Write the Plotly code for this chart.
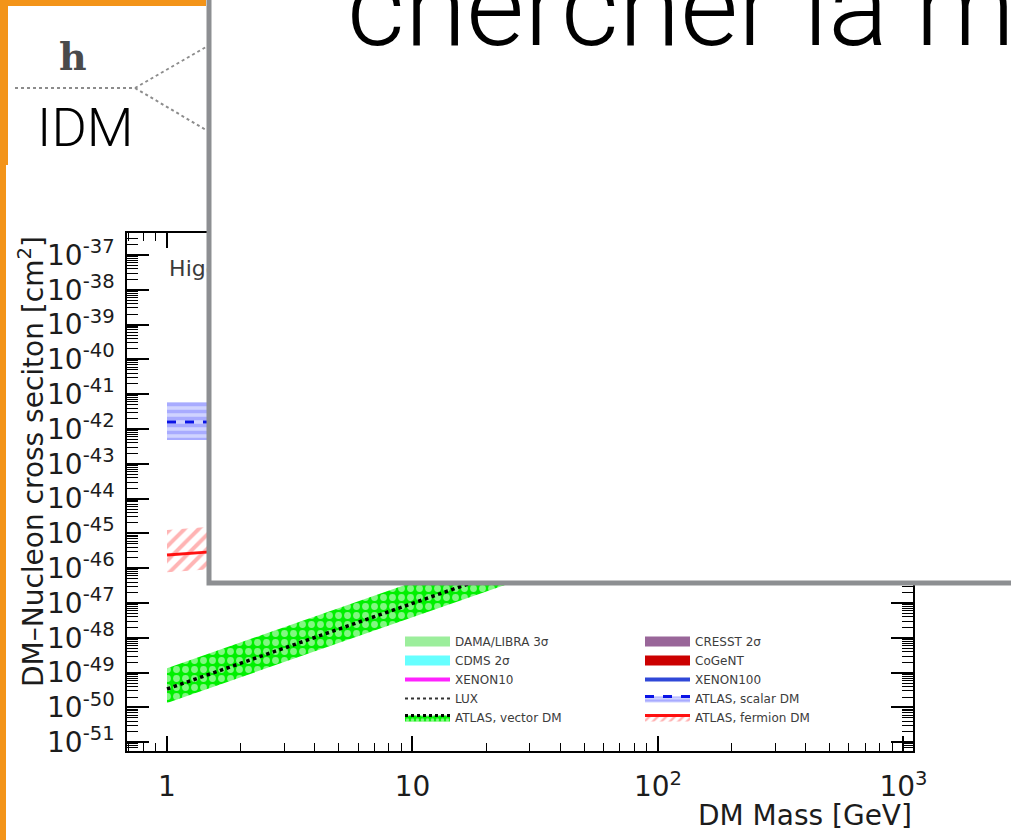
import plotly.graph_objects as go

W, H = 1011, 840

# ---------------- data ----------------
mass_vector = [1, 2, 3, 5, 10, 20, 30, 50, 62]
vector_center = [3.4e-50, 1.86e-49, 5.0e-49, 1.78e-48, 9.8e-48, 5.4e-47, 1.45e-46, 5.1e-46, 8.7e-46]
vector_upper = [1.35e-49, 7.4e-49, 2.0e-48, 7.1e-48, 3.9e-47, 2.15e-46, 5.8e-46, 2.0e-45, 3.5e-45]
vector_lower = [1.35e-50, 7.4e-50, 2.0e-49, 7.1e-49, 3.9e-48, 2.15e-47, 5.8e-47, 2.0e-46, 3.5e-46]

mass_scalar = [1, 1.5, 2, 5, 10, 20, 30, 50, 62]
scalar_center = [1.6e-42, 1.6e-42, 1.5e-42, 1.0e-42, 6.0e-43, 3.2e-43, 2.2e-43, 1.3e-43, 1.1e-43]
scalar_upper = [6.0e-42, 6.0e-42, 5.6e-42, 3.8e-42, 2.3e-42, 1.2e-42, 8.4e-43, 4.9e-43, 4.2e-43]
scalar_lower = [4.8e-43, 4.8e-43, 4.5e-43, 3.0e-43, 1.8e-43, 9.6e-44, 6.6e-44, 3.9e-44, 3.3e-44]

mass_fermion = [1, 1.5, 2, 5, 10, 20, 30, 50, 62]
fermion_center = [2.4e-46, 2.95e-46, 3.6e-46, 4.8e-46, 5.4e-46, 5.9e-46, 6.0e-46, 6.2e-46, 6.3e-46]
fermion_upper = [1.26e-45, 1.55e-45, 1.9e-45, 2.5e-45, 2.8e-45, 3.1e-45, 3.15e-45, 3.25e-45, 3.3e-45]
fermion_lower = [7.7e-47, 9.4e-47, 1.15e-46, 1.5e-46, 1.7e-46, 1.9e-46, 1.9e-46, 2.0e-46, 2.0e-46]

x_tick_vals = [1, 10, 100, 1000]
x_tick_text = ["1", "10", "10<sup>2</sup>", "10<sup>3</sup>"]
y_exponents = list(range(-37, -52, -1))
y_tick_vals = [10.0 ** e for e in y_exponents]
y_tick_text = ["10<sup>%d</sup>" % e for e in y_exponents]

legend1_names = ["DAMA/LIBRA 3σ", "CDMS 2σ", "XENON10", "LUX", "ATLAS, vector DM"]
legend2_names = ["CRESST 2σ", "CoGeNT", "XENON100", "ATLAS, scalar DM", "ATLAS, fermion DM"]

plot_label = "Higgs portal"
slide_title = "chercher la matière noire"
slide_label = "IDM"

# ---------------- helpers ----------------
def px(x):
    return x / W


def py(y):
    return 1 - y / H


TXT = dict(family="DejaVu Sans", size=28, color="#1c1c1c")

fig = go.Figure()


def band(m, lo, hi, pattern, fillcolor):
    fig.add_trace(go.Scatter(
        x=list(m) + list(m)[::-1], y=list(hi) + list(lo)[::-1],
        mode="lines", fill="toself", fillcolor=fillcolor,
        fillpattern=pattern, line=dict(width=0), hoverinfo="skip",
        showlegend=False))


GREEN = "#00f000"
VEC_PATTERN = dict(shape=".", fgcolor="white", bgcolor=GREEN, size=9, solidity=0.45)

# ATLAS scalar DM
band(mass_scalar, scalar_lower, scalar_upper,
     dict(shape="-", fgcolor="#8084ff", bgcolor="#d0d3ff", size=7, solidity=0.5),
     "#d0d3ff")
fig.add_trace(go.Scatter(x=mass_scalar, y=scalar_center, mode="lines",
                         line=dict(color="#0a14e6", width=3, dash="dash"), showlegend=False))
# ATLAS fermion DM
band(mass_fermion, fermion_lower, fermion_upper,
     dict(shape="/", fgcolor="#ff6a6a", bgcolor="white", size=10, solidity=0.4),
     "white")
fig.add_trace(go.Scatter(x=mass_fermion, y=fermion_center, mode="lines",
                         line=dict(color="#ff1010", width=3), showlegend=False))
# ATLAS vector DM
band(mass_vector, vector_lower, vector_upper, VEC_PATTERN, GREEN)
fig.add_trace(go.Scatter(x=mass_vector, y=vector_center, mode="lines",
                         line=dict(color="black", width=3.5, dash="dot"), showlegend=False))

# plot label (partly hidden under the slide box)
fig.add_trace(go.Scatter(x=[1.02], y=[10 ** -37.45], mode="text", text=[plot_label],
                         textposition="middle right",
                         textfont=dict(family="DejaVu Sans", size=22, color="#3a3a3a"),
                         showlegend=False, hoverinfo="skip"))

# ---------------- legend entries ----------------
LEG_STYLES_1 = [
    dict(line=dict(color="#9cee9c", width=12)),
    dict(line=dict(color="#66ffff", width=12)),
    dict(line=dict(color="#ff22ff", width=4)),
    dict(line=dict(color="#333333", width=2, dash="dot")),
    dict(fill="toself", fillcolor=GREEN,
         fillpattern=dict(shape=".", fgcolor="white", bgcolor=GREEN, size=5, solidity=0.4),
         line=dict(color="black", width=3, dash="dot")),
]
LEG_STYLES_2 = [
    dict(line=dict(color="#996699", width=12)),
    dict(line=dict(color="#cc0000", width=12)),
    dict(line=dict(color="#3048d8", width=4)),
    dict(fill="toself", fillcolor="#d0d3ff",
         fillpattern=dict(shape="-", fgcolor="#8084ff", bgcolor="#d0d3ff", size=4, solidity=0.5),
         line=dict(color="#0a14e6", width=3, dash="dash")),
    dict(fill="toself", fillcolor="white",
         fillpattern=dict(shape="/", fgcolor="#ff6666", bgcolor="white", size=6, solidity=0.4),
         line=dict(color="#ff1010", width=3)),
]
for name, st in zip(legend1_names, LEG_STYLES_1):
    fig.add_trace(go.Scatter(x=[None], y=[None], mode="lines", name=name, legend="legend", **st))
for name, st in zip(legend2_names, LEG_STYLES_2):
    fig.add_trace(go.Scatter(x=[None], y=[None], mode="lines", name=name, legend="legend2", **st))

# ---------------- axes ----------------
x_minor = [k * 10 ** d for d in range(-1, 4) for k in range(2, 10)]
y_minor = [k * 10.0 ** d for d in range(-52, -36) for k in range(2, 10)]

fig.update_xaxes(type="log", range=[-0.163, 3.039], domain=[px(127), px(913)],
                 tickmode="array", tickvals=x_tick_vals, ticktext=x_tick_text,
                 ticks="inside", ticklen=15, tickwidth=1.5, tickcolor="black",
                 minor=dict(tickmode="array", tickvals=x_minor, ticks="inside", ticklen=8,
                            tickwidth=1.2, tickcolor="black", showgrid=False),
                 showline=True, linecolor="black", linewidth=1.5, mirror="allticks",
                 showgrid=False, zeroline=False, tickfont=TXT, ticklabelstandoff=10,
                 automargin=False)
fig.update_yaxes(type="log", range=[-51.25, -36.37], domain=[py(751), py(233)],
                 tickmode="array", tickvals=y_tick_vals, ticktext=y_tick_text,
                 ticks="inside", ticklen=22, tickwidth=1.5, tickcolor="black",
                 minor=dict(tickmode="array", tickvals=y_minor, ticks="inside", ticklen=11,
                            tickwidth=1.2, tickcolor="black", showgrid=False),
                 showline=True, linecolor="black", linewidth=1.5, mirror="allticks",
                 showgrid=False, zeroline=False, tickfont=TXT, ticklabelstandoff=5,
                 automargin=False)

# ---------------- slide decorations ----------------
ORANGE = "#f39419"
shapes = [
    dict(type="rect", x0=px(0), x1=px(206), y0=py(0), y1=py(6), fillcolor=ORANGE, line_width=0),
    dict(type="rect", x0=px(0), x1=px(8), y0=py(0), y1=py(165), fillcolor=ORANGE, line_width=0),
    dict(type="rect", x0=px(0), x1=px(6), y0=py(165), y1=py(840), fillcolor=ORANGE, line_width=0),
    # Feynman-like dotted lines
    dict(type="line", x0=px(15), y0=py(88), x1=px(135), y1=py(88),
         line=dict(color="#8c8c8c", width=2, dash="dot")),
    dict(type="line", x0=px(135), y0=py(88), x1=px(206), y1=py(47),
         line=dict(color="#8c8c8c", width=2, dash="dot")),
    dict(type="line", x0=px(135), y0=py(88), x1=px(206), y1=py(130),
         line=dict(color="#8c8c8c", width=2, dash="dot")),
    # overlaid slide box
    dict(type="rect", x0=px(209), x1=px(1060), y0=py(583), y1=py(-50),
         fillcolor="white", line=dict(color="#8d8f92", width=5), layer="above"),
]
for s in shapes:
    s.setdefault("xref", "paper")
    s.setdefault("yref", "paper")
    s.setdefault("layer", "above")
fig.update_layout(shapes=shapes)

annotations = [
    dict(text=slide_title, x=px(345), y=py(74), xanchor="left", yanchor="bottom",
         font=dict(family="Roboto", size=112, color="black", weight=300)),
    dict(text="h", x=px(73), y=py(57), xanchor="center", yanchor="middle",
         font=dict(family="DejaVu Serif", size=38, color="#4a4a4a", weight="bold")),
    dict(text=slide_label, x=px(85), y=py(127), xanchor="center", yanchor="middle",
         font=dict(family="Roboto", size=54, color="black", weight=300)),
    dict(text="DM\u2013Nucleon cross seciton [cm<sup>2</sup>]", x=px(31), y=py(462),
         textangle=-90, xanchor="center", yanchor="middle", font=TXT),
    dict(text="DM Mass [GeV]", x=px(914), y=py(815), xanchor="right", yanchor="middle", font=TXT),
]
for a in annotations:
    a.update(xref="paper", yref="paper", showarrow=False)
fig.update_layout(annotations=annotations)

LEGFONT = dict(family="DejaVu Sans", size=12, color="#3c3c3c")
fig.update_layout(
    width=W, height=H, margin=dict(l=0, r=0, t=0, b=0),
    paper_bgcolor="white", plot_bgcolor="white", showlegend=True,
    legend=dict(x=px(400), y=py(627), xanchor="left", yanchor="top", bgcolor="rgba(0,0,0,0)",
                font=LEGFONT, tracegroupgap=0, itemwidth=45),
    legend2=dict(x=px(640), y=py(627), xanchor="left", yanchor="top", bgcolor="rgba(0,0,0,0)",
                 font=LEGFONT, tracegroupgap=0, itemwidth=45),
)

fig.write_html("out.html")
